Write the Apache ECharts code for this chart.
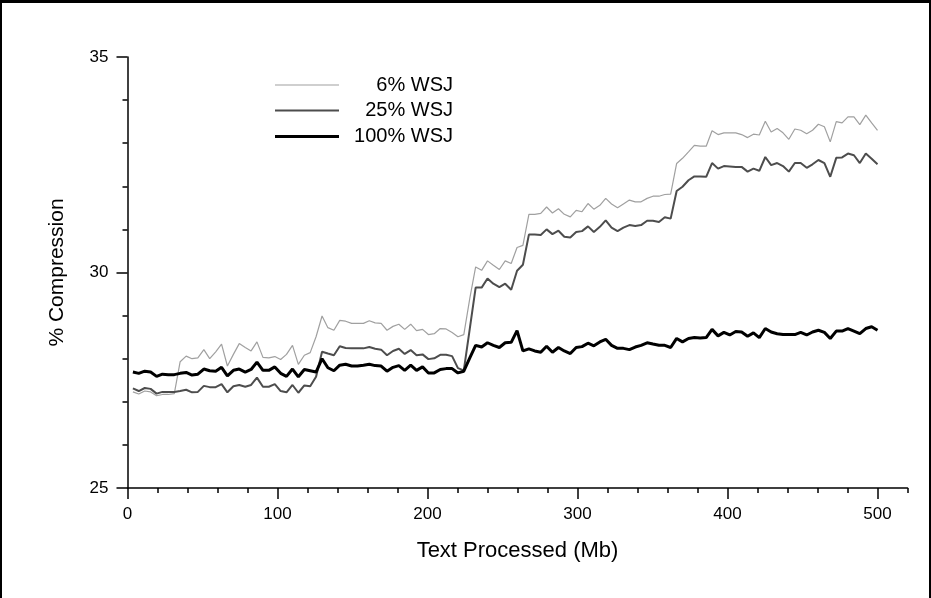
<!DOCTYPE html>
<html>
<head>
<meta charset="utf-8">
<title>% Compression</title>
<script src="https://cdn.jsdelivr.net/npm/echarts@6.0.0/dist/echarts.min.js"></script>
<style>
html, body { margin:0; padding:0; background:#fff; }
#chart { position:absolute; left:0; top:0; width:931px; height:598px; }
#frame { position:absolute; left:0; top:0; width:931px; height:598px; box-sizing:border-box;
	border-top:3px solid #000; border-left:2px solid #000; border-right:2px solid #000; pointer-events:none; }
</style>
</head>
<body>
<div id="chart"></div>
<div id="frame"></div>
<script>
// Mb processed at each sample
var mb = [3.6,7.5,11.5,15.4,19.4,23.3,27.2,31.2,35.1,39.1,43.0,46.9,50.9,54.8,58.8,62.7,66.6,70.6,74.5,78.5,
	82.4,86.3,90.3,94.2,98.2,102.1,106.0,110.0,113.9,117.9,121.8,125.7,129.7,133.6,137.6,141.5,145.4,149.4,153.3,157.3,
	161.2,165.1,169.1,173.0,177.0,180.9,184.8,188.8,192.7,196.7,200.6,204.5,208.5,212.4,216.4,220.3,224.2,228.2,232.1,236.1,
	240.0,243.9,247.9,251.8,255.8,259.7,263.6,267.6,271.5,275.5,279.4,283.3,287.3,291.2,295.2,299.1,303.0,307.0,310.9,314.9,
	318.8,322.7,326.7,330.6,334.6,338.5,342.4,346.4,350.3,354.3,358.2,362.1,366.1,370.0,374.0,377.9,381.8,385.8,389.7,393.7,
	397.6,401.5,405.5,409.4,413.4,417.3,421.2,425.2,429.1,433.1,437.0,440.9,444.9,448.8,452.8,456.7,460.6,464.6,468.5,472.5,
	476.4,480.3,484.3,488.2,492.2,496.1,500.0];

var wsj6 = [27.23,27.18,27.25,27.23,27.14,27.17,27.17,27.19,27.93,28.06,28.00,28.02,28.21,28.00,28.16,28.34,27.83,28.10,28.35,28.26,
	28.18,28.39,28.03,28.02,28.05,27.98,28.10,28.31,27.87,28.08,28.14,28.51,28.99,28.72,28.66,28.89,28.87,28.82,28.82,28.82,
	28.88,28.83,28.82,28.66,28.75,28.80,28.68,28.80,28.65,28.68,28.56,28.58,28.70,28.69,28.61,28.51,28.56,29.40,30.13,30.05,
	30.27,30.17,30.07,30.27,30.21,30.58,30.63,31.35,31.35,31.37,31.52,31.38,31.48,31.35,31.29,31.44,31.41,31.60,31.47,31.56,
	31.72,31.59,31.50,31.59,31.68,31.64,31.64,31.72,31.77,31.77,31.81,31.82,32.53,32.65,32.80,32.95,32.93,32.93,33.29,33.20,
	33.24,33.24,33.24,33.20,33.13,33.21,33.19,33.51,33.26,33.34,33.24,33.09,33.33,33.30,33.22,33.30,33.44,33.38,33.03,33.50,
	33.47,33.61,33.61,33.43,33.65,33.47,33.30];

var wsj25 = [27.31,27.25,27.32,27.30,27.19,27.23,27.23,27.23,27.25,27.28,27.22,27.23,27.37,27.34,27.34,27.41,27.22,27.36,27.39,27.35,
	27.39,27.56,27.35,27.35,27.41,27.25,27.22,27.39,27.21,27.38,27.36,27.58,28.16,28.12,28.08,28.29,28.25,28.24,28.24,28.24,
	28.27,28.23,28.21,28.08,28.18,28.23,28.11,28.20,28.08,28.10,27.99,28.01,28.09,28.09,28.06,27.78,27.73,28.70,29.65,29.65,
	29.86,29.74,29.66,29.74,29.60,30.04,30.18,30.88,30.88,30.87,31.00,30.89,30.97,30.83,30.81,30.94,30.96,31.07,30.94,31.06,
	31.21,31.04,30.96,31.04,31.10,31.08,31.10,31.20,31.20,31.17,31.28,31.25,31.89,31.99,32.14,32.23,32.23,32.22,32.54,32.41,
	32.47,32.46,32.45,32.45,32.34,32.41,32.36,32.68,32.49,32.54,32.47,32.34,32.54,32.54,32.43,32.51,32.61,32.54,32.22,32.66,
	32.67,32.76,32.72,32.54,32.76,32.64,32.51];

var wsj100 = [27.69,27.66,27.71,27.69,27.59,27.64,27.63,27.63,27.66,27.68,27.62,27.64,27.76,27.72,27.71,27.80,27.60,27.73,27.76,27.69,
	27.75,27.92,27.73,27.73,27.81,27.66,27.59,27.76,27.58,27.75,27.72,27.69,28.00,27.79,27.72,27.85,27.87,27.83,27.83,27.85,
	27.87,27.84,27.83,27.71,27.80,27.84,27.73,27.85,27.73,27.81,27.67,27.67,27.75,27.77,27.77,27.67,27.71,28.02,28.31,28.27,
	28.37,28.31,28.26,28.37,28.38,28.65,28.18,28.23,28.18,28.15,28.29,28.15,28.26,28.18,28.12,28.26,28.28,28.36,28.30,28.39,
	28.45,28.31,28.24,28.24,28.21,28.27,28.31,28.37,28.34,28.31,28.31,28.26,28.47,28.39,28.47,28.49,28.48,28.49,28.68,28.53,
	28.61,28.55,28.63,28.62,28.52,28.60,28.49,28.70,28.62,28.58,28.56,28.56,28.56,28.61,28.55,28.62,28.66,28.61,28.47,28.64,
	28.64,28.70,28.64,28.58,28.70,28.74,28.66];

var names = ['6% WSJ', '25% WSJ', '100% WSJ'];
var colors = ['#a0a0a0', '#4d4d4d', '#000000'];
var widths = [1.2, 2, 3];
var xMajor = [0, 100, 200, 300, 400, 500];

function pairs(ys){
	var out = [];
	for(var i=0;i<ys.length;i++){
		out.push([mb[i], ys[i]]);
	}
	return out;
}

var chart = echarts.init(document.getElementById('chart'), null, {renderer:'canvas'});
var font = 'Liberation Sans, Arial, sans-serif';
var axisCol = '#000';

// one legend box per line so each key keeps its own stroke width
var legendTops = [85, 110.5, 136.5];
var legends = [];
for(var k=0;k<names.length;k++){
	legends.push({
		orient: 'horizontal',
		left: 275,
		top: legendTops[k] - 12,
		padding: 0,
		itemWidth: 64,
		itemHeight: widths[k] < 1.5 ? 1 : widths[k],
		icon: 'rect',
		data: [names[k]],
		formatter: function(n){ return '{t|' + n + '}'; },
		textStyle: {
			rich: { t: { width: 109, height: 24, lineHeight: 24, align: 'right', fontSize: 20, fontFamily: font, color: '#000' } }
		}
	});
}

var series = [];
var sets = [wsj6, wsj25, wsj100];
for(var s=0;s<sets.length;s++){
	series.push({
		name: names[s], type: 'line', symbol: 'none', xAxisIndex: 0,
		lineStyle: { color: colors[s], width: widths[s] },
		itemStyle: { color: colors[s] },
		data: pairs(sets[s])
	});
}

option = {
	animation: false,
	backgroundColor: '#fff',
	textStyle: { fontFamily: font },
	grid: { left: 127.5, right: 23.5, top: 57, bottom: 110 },
	legend: legends,
	xAxis: [{
		type: 'value',
		min: 0, max: 520, interval: 20,
		name: 'Text Processed (Mb)',
		nameLocation: 'middle',
		nameGap: 52,
		nameTextStyle: { fontSize: 22, color: '#000', fontFamily: font },
		axisLine: { lineStyle: { color: axisCol, width: 1.5 } },
		axisTick: { length: 5, lineStyle: { color: axisCol, width: 1.5 } },
		axisLabel: {
			margin: 18, fontSize: 17, color: '#000', fontFamily: font,
			formatter: function(v){ return v % 100 === 0 ? v : ''; }
		},
		splitLine: { show: false }
	}, {
		type: 'value',
		position: 'bottom',
		min: 0, max: 520, interval: 100,
		axisLine: { show: false },
		axisTick: { length: 11, customValues: xMajor, lineStyle: { color: axisCol, width: 1.5 } },
		axisLabel: { show: false },
		splitLine: { show: false }
	}],
	yAxis: {
		type: 'value',
		min: 25, max: 35, interval: 5,
		name: '% Compression',
		nameLocation: 'middle',
		nameGap: 60,
		nameTextStyle: { fontSize: 21, color: '#000', fontFamily: font },
		axisLine: { lineStyle: { color: axisCol, width: 1.5 } },
		axisTick: { length: 11, lineStyle: { color: axisCol, width: 1.5 } },
		minorTick: { show: true, splitNumber: 5, length: 5, lineStyle: { color: axisCol, width: 1.5 } },
		axisLabel: { margin: 19, fontSize: 17, color: '#000', fontFamily: font },
		splitLine: { show: false },
		minorSplitLine: { show: false }
	},
	series: series
};
chart.setOption(option);
</script>
</body>
</html>
